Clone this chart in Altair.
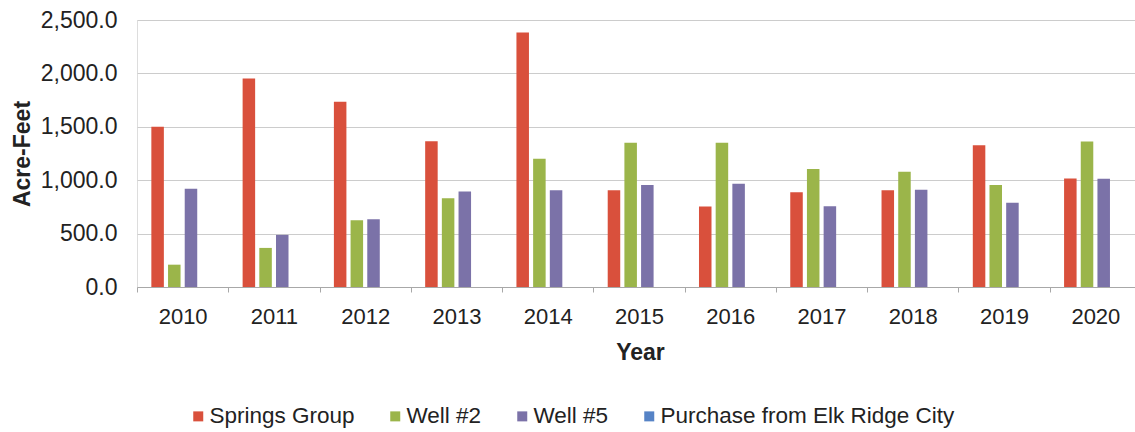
import altair as alt
import pandas as pd

years = ["2010", "2011", "2012", "2013", "2014", "2015", "2016", "2017", "2018", "2019", "2020"]
series = ["Springs Group", "Well #2", "Well #5", "Purchase from Elk Ridge City"]
springs_group = [1500, 1953, 1735, 1365, 2382, 906, 753, 887, 906, 1328, 1016]
well_2 = [209, 366, 625, 831, 1200, 1350, 1350, 1106, 1078, 956, 1362]
well_5 = [919, 488, 634, 894, 906, 956, 966, 756, 910, 790, 1013]
purchase_elk_ridge = [0, 0, 0, 0, 0, 0, 0, 0, 0, 0, 0]
colors = ["#D9503C", "#9BB54A", "#7B72A8", "#5683C6"]

rows = []
for name, vals in zip(series, [springs_group, well_2, well_5, purchase_elk_ridge]):
    for y, v in zip(years, vals):
        rows.append({"Year": y, "Series": name, "Value": v})
df = pd.DataFrame(rows)

FONT = "Liberation Sans"

chart = alt.Chart(df).mark_bar().encode(
    x=alt.X(
        "Year:N",
        sort=years,
        scale=alt.Scale(paddingInner=0, paddingOuter=0, range=[0, 1004]),
        axis=alt.Axis(
            title="Year",
            labelAngle=0,
            labelFont=FONT,
            labelFontSize=22,
            labelColor="#222222",
            labelPadding=14,
            tickBand="extent",
            tickSize=5,
            tickColor="#a8a8a8",
            domainColor="#a8a8a8",
            grid=False,
            titleFont=FONT,
            titleFontSize=23,
            titleFontWeight="bold",
            titleColor="#222222",
            titleX=503,
            titleY=54,
            titleBaseline="top",
        ),
    ),
    xOffset=alt.XOffset(
        "Series:N",
        sort=series,
        scale=alt.Scale(paddingInner=0.25, paddingOuter=0.86),
    ),
    y=alt.Y(
        "Value:Q",
        scale=alt.Scale(domain=[0, 2500], nice=False),
        axis=alt.Axis(
            title="Acre-Feet",
            values=[0, 500, 1000, 1500, 2000, 2500],
            format=",.1f",
            labelFont=FONT,
            labelFontSize=23,
            labelColor="#222222",
            labelPadding=20,
            tickSize=0,
            domain=False,
            gridColor="#cccccc",
            gridWidth=1,
            titleFont=FONT,
            titleFontSize=23,
            titleFontWeight="bold",
            titleColor="#222222",
            titleAngle=-90,
            titleX=-115,
            titleY=133.5,
            titleAlign="center",
            titleBaseline="middle",
        ),
    ),
    color=alt.Color(
        "Series:N",
        sort=series,
        scale=alt.Scale(domain=series, range=colors),
        legend=alt.Legend(
            title=None,
            orient="none",
            direction="horizontal",
            columns=4,
            legendX=50,
            legendY=385,
            symbolType="square",
            symbolSize=100,
            symbolStrokeWidth=0,
            labelFont=FONT,
            labelFontSize=22.5,
            labelColor="#222222",
            labelOffset=0,
            labelLimit=500,
            columnPadding=29,
        ),
    ),
).properties(
    width=998,
    height=267,
    padding={"left": 137, "top": 20, "right": 0, "bottom": 145},
    autosize=alt.AutoSizeParams(type="none"),
).configure_view(stroke=None).configure(background="white")

chart.save("out.html", embed_options={"renderer": "svg", "actions": False})
